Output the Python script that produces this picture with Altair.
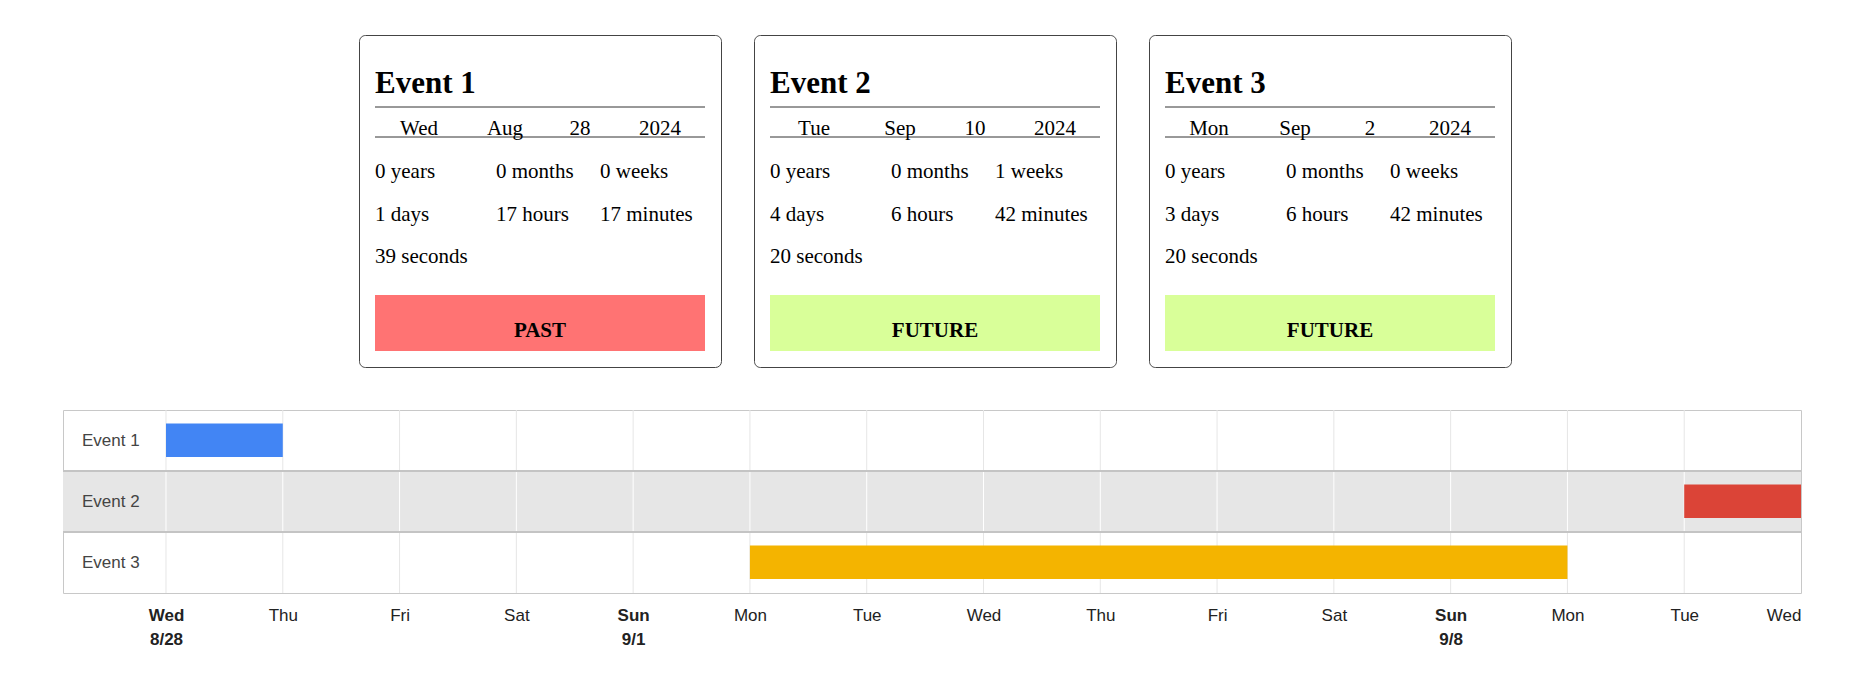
import altair as alt
import pandas as pd

# card data
names = ["Event 1", "Event 2", "Event 3"]
weekdays = ["Wed", "Tue", "Mon"]
months_txt = ["Aug", "Sep", "Sep"]
days_txt = ["28", "10", "2"]
years_txt = ["2024", "2024", "2024"]
d_years = [0, 0, 0]
d_months = [0, 0, 0]
d_weeks = [0, 1, 0]
d_days = [1, 4, 3]
d_hours = [17, 6, 6]
d_minutes = [17, 42, 42]
d_seconds = [39, 20, 20]
status = ["PAST", "FUTURE", "FUTURE"]
status_colors = {"PAST": "#ff7373", "FUTURE": "#d9ff99"}

# timeline data
starts = ["2024-08-28T00:00:00Z", "2024-09-10T00:00:00Z", "2024-09-02T00:00:00Z"]
ends = ["2024-08-29T00:00:00Z", "2024-09-11T00:00:00Z", "2024-09-09T00:00:00Z"]
bar_colors = ["#4285f4", "#db4437", "#f4b400"]
day_marks = pd.date_range("2024-08-28", "2024-09-10", freq="D").strftime("%Y-%m-%dT00:00:00Z").tolist()

CW, CH = 362, 332
SERIF = "Times New Roman, Liberation Serif, serif"


def card(i):
    xs = alt.Scale(domain=[0, CW])
    ys = alt.Scale(domain=[0, CH], reverse=False)
    base = alt.Chart().encode(
        x=alt.X("x:Q", scale=xs, axis=None),
        y=alt.Y("y:Q", scale=alt.Scale(domain=[CH, 0]), axis=None),
        text="t:N",
    )
    title = base.mark_text(align="left", font=SERIF, fontSize=31, fontWeight="bold", color="#000").properties(
        data=alt.Data(values=[{"x": 16, "y": 49, "t": names[i]}]))
    lines = alt.Chart(pd.DataFrame({"y": [72, 102]})).mark_rule(color="#333").encode(
        x=alt.value(16), x2=alt.value(346), y=alt.Y("y:Q", scale=alt.Scale(domain=[CH, 0]), axis=None))
    date_row = [{"x": xx, "y": 94, "t": t} for xx, t in
                zip([60, 146, 221, 301], [weekdays[i], months_txt[i], days_txt[i], years_txt[i]])]
    dates = base.mark_text(align="center", font=SERIF, fontSize=21, color="#000").properties(
        data=alt.Data(values=date_row))
    diff = [
        (16, 137, f"{d_years[i]} years"), (137, 137, f"{d_months[i]} months"), (241, 137, f"{d_weeks[i]} weeks"),
        (16, 180, f"{d_days[i]} days"), (137, 180, f"{d_hours[i]} hours"), (241, 180, f"{d_minutes[i]} minutes"),
        (16, 222, f"{d_seconds[i]} seconds"),
    ]
    diffs = base.mark_text(align="left", font=SERIF, fontSize=21, color="#000").properties(
        data=alt.Data(values=[{"x": a, "y": b, "t": c} for a, b, c in diff]))
    button = alt.Chart(pd.DataFrame({"s": [status[i]]})).mark_rect(color=status_colors[status[i]]).encode(
        x=alt.value(16), x2=alt.value(346), y=alt.value(260), y2=alt.value(316))
    btn_text = base.mark_text(align="center", font=SERIF, fontSize=21, fontWeight="bold", color="#000").properties(
        data=alt.Data(values=[{"x": 181, "y": 296, "t": status[i]}]))
    return alt.layer(title, lines, dates, diffs, button, btn_text).properties(
        width=CW, height=CH, view=alt.ViewConfig(stroke="#444", strokeWidth=1, cornerRadius=6))


spacer = alt.Chart(pd.DataFrame({"a": [0]})).mark_point(opacity=0).encode(
    x=alt.value(0), y=alt.value(0)).properties(width=264, height=CH, view=alt.ViewConfig(stroke=None))

cards = alt.hconcat(spacer, card(0), card(1), card(2), spacing=31)

# timeline
W, H = 1738, 183
utc = dict(utc=True)
xscale = alt.Scale(type="utc", domain=[alt.DateTime(year=2024, month=8, date=27, hours=2, minutes=50, **utc),
                                       alt.DateTime(year=2024, month=9, date=11, **utc)])
yscale = alt.Scale(domain=[3, 0])

bars_df = pd.DataFrame({"name": names, "start": starts, "end": ends, "row": [0, 1, 2], "color": bar_colors})
bars_df["y0"] = bars_df["row"] + 0.22
bars_df["y1"] = bars_df["row"] + 0.77
bars_df["ly"] = bars_df["row"] + 0.5

grid_rows = []
for d in day_marks:
    for r in range(3):
        grid_rows.append({"d": d, "r": r, "r2": r + 1, "c": "#ffffff" if r == 1 else "#e6e6e6"})
grid_df = pd.DataFrame(grid_rows)

band = alt.Chart(pd.DataFrame({"r": [1], "r2": [2]})).mark_rect(color="#e6e6e6").encode(
    x=alt.value(0), x2=alt.value(W),
    y=alt.Y("r:Q", scale=yscale, axis=None), y2="r2:Q")

grid = alt.Chart(grid_df).mark_rule(strokeWidth=1).encode(
    x=alt.X("d:T", scale=xscale, title=None,
            axis=alt.Axis(
                values=[alt.DateTime(year=2024, month=m, date=dd, **utc) for m, dd in
                        [(8, 28), (8, 29), (8, 30), (8, 31)] + [(9, k) for k in range(1, 12)]],
                labelExpr="(utcday(datum.value)==0 || (utcmonth(datum.value)==7 && utcdate(datum.value)==28)) ? "
                          "[utcFormat(datum.value,'%a'), utcFormat(datum.value,'%-m/%-d')] : utcFormat(datum.value,'%a')",
                labelFontWeight={"condition": {"test": "utcday(datum.value)==0 || (utcmonth(datum.value)==7 && utcdate(datum.value)==28)",
                                               "value": "bold"}, "value": "normal"},
                labelFont="Arial, Liberation Sans, sans-serif", labelFontSize=17, labelColor="#222",
                labelPadding=14, labelLineHeight=24, ticks=False, domain=False, grid=False,
                labelBound=False, labelOverlap=False)),
    y=alt.Y("r:Q", scale=yscale, axis=None), y2="r2:Q",
    color=alt.Color("c:N", scale=None))

seps = alt.Chart(pd.DataFrame({"r": [1, 2]})).mark_rule(color="#c4c4c4", strokeWidth=2).encode(
    x=alt.value(0), x2=alt.value(W), y=alt.Y("r:Q", scale=yscale, axis=None))

bars = alt.Chart(bars_df).mark_rect().encode(
    x=alt.X("start:T", scale=xscale), x2="end:T",
    y=alt.Y("y0:Q", scale=yscale, axis=None), y2="y1:Q",
    color=alt.Color("color:N", scale=None))

labels = alt.Chart(bars_df).mark_text(align="left", font="Arial, Liberation Sans, sans-serif",
                                      fontSize=17, color="#444").encode(
    x=alt.value(19), y=alt.Y("ly:Q", scale=yscale, axis=None), text="name:N")

timeline = alt.layer(band, grid, seps, bars, labels).properties(
    width=W, height=H, view=alt.ViewConfig(stroke="#c8c8c8", strokeWidth=1))

chart = alt.vconcat(cards, timeline, spacing=41).properties(
    padding={"left": 52, "top": 24, "right": 0, "bottom": 0}
).configure_concat(spacing=31).configure_view(strokeWidth=1)

chart.save("out.html", embed_options={"renderer": "svg", "actions": False})
